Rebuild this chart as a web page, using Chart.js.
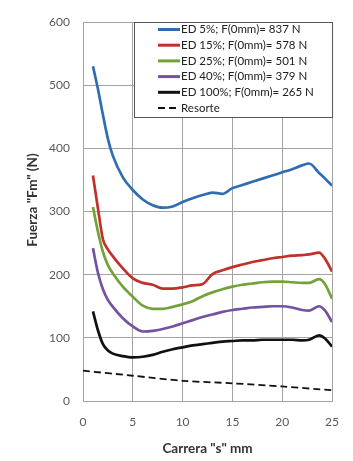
<!DOCTYPE html>
<html lang="es">
<head>
<meta charset="UTF-8">
<title>Fuerza vs Carrera</title>
<script src="https://cdn.jsdelivr.net/npm/chart.js@4"></script>
<style>
  html, body { margin: 0; padding: 0; background: #fff; }
  #wrap { width: 353px; height: 461px; }
</style>
</head>
<body>
<div id="wrap"><canvas id="chart" width="353" height="461"></canvas></div>
<script>
// carrera "s" en mm (eje x)
const carrera = [1, 1.5, 2, 2.5, 3, 4, 5, 6, 7, 8, 9, 10, 11, 12, 13, 14, 15, 16, 17, 18, 19, 20, 21, 22, 22.7, 23.7, 24.3, 25];

// fuerza "Fm" en N para cada ED
const ed5   = [530, 494, 453, 415, 388, 354, 334, 319, 310, 306, 308, 315, 321, 326, 330, 328, 337, 342, 347, 352, 357, 362, 367, 373, 376, 361, 352, 341];
const ed15  = [357, 305, 256, 240, 229, 210, 194, 187, 184, 178, 178, 180, 183, 185, 201, 207, 212, 216, 220, 223, 226, 228, 230, 231, 232, 235, 225, 205];
const ed25  = [307, 268, 236, 215, 202, 181, 165, 151, 146, 146, 149, 153, 158, 166, 172, 177, 181, 184, 186, 188, 189, 189, 188, 187, 187, 193, 185, 162];
const ed40  = [242, 203, 177, 160, 149, 131, 118, 110, 111, 114, 118, 123, 128, 133, 137, 141, 144, 146, 148, 149, 150, 150, 148, 144, 143, 150, 143, 125];
const ed100 = [142, 112, 90, 80, 75, 71, 69, 70, 73, 78, 82, 85, 88, 90, 92, 94, 95, 96, 96, 97, 97, 97, 97, 96, 97, 104, 99, 86];

// resorte
const carreraResorte = [0, 5, 10, 15, 20, 25];
const resorte = [48, 40, 32, 28, 23, 17];

const etiquetas = [
  'ED 5%; F(0mm)= 837 N',
  'ED 15%; F(0mm)= 578 N',
  'ED 25%; F(0mm)= 501 N',
  'ED 40%; F(0mm)= 379 N',
  'ED 100%; F(0mm)= 265 N',
  'Resorte'
];
const colores = ['#2f6db3', '#c0312c', '#74a23a', '#7452a2', '#111111', '#111111'];
const fuente = 'Lato, "Open Sans", sans-serif';

function puntos(xs, ys) {
  return xs.map((x, i) => ({ x: x, y: ys[i] }));
}

const series = [ed5, ed15, ed25, ed40, ed100];
const datasets = series.map((ys, i) => ({
  label: etiquetas[i],
  data: puntos(carrera, ys),
  borderColor: colores[i],
  borderWidth: 2.7,
  pointRadius: 0,
  cubicInterpolationMode: 'monotone',
  fill: false
}));
datasets.push({
  label: etiquetas[5],
  data: puntos(carreraResorte, resorte),
  borderColor: colores[5],
  borderWidth: 1.8,
  borderDash: [7, 4],
  pointRadius: 0,
  tension: 0.3,
  fill: false
});

// leyenda dentro del area del grafico + titulo del eje y
const leyenda = {
  id: 'leyenda',
  afterDatasetsDraw(chart) {
    const ctx = chart.ctx;
    const area = chart.chartArea;
    const x0 = area.left + 51, y0 = area.top + 0.5;
    const w = area.right - x0 + 1, h = 95;
    ctx.save();
    ctx.fillStyle = '#fff';
    ctx.fillRect(x0, y0, w, h);
    ctx.strokeStyle = '#555';
    ctx.lineWidth = 1;
    ctx.strokeRect(x0 + 0.5, y0, w - 1, h);
    ctx.font = '11.5px ' + fuente;
    ctx.textBaseline = 'middle';
    chart.data.datasets.forEach((ds, i) => {
      const y = y0 + 7 + i * 15.7;
      ctx.strokeStyle = ds.borderColor;
      ctx.lineWidth = i < 5 ? 3 : 2;
      ctx.setLineDash(ds.borderDash || []);
      ctx.beginPath();
      ctx.moveTo(x0 + 24, y);
      ctx.lineTo(x0 + 46, y);
      ctx.stroke();
      ctx.setLineDash([]);
      ctx.fillStyle = '#222';
      ctx.fillText(ds.label, x0 + 47, y);
    });

    // titulo eje y
    ctx.translate(33, 200);
    ctx.rotate(-Math.PI / 2);
    ctx.font = 'bold 13.5px ' + fuente;
    ctx.fillStyle = '#333';
    ctx.textAlign = 'center';
    ctx.fillText('Fuerza "Fm" (N)', 0, 0);
    ctx.restore();
  }
};

new Chart(document.getElementById('chart'), {
  type: 'line',
  data: { datasets: datasets },
  plugins: [leyenda],
  options: {
    responsive: false,
    animation: false,
    layout: { padding: { top: 22, right: 11, left: 0, bottom: 0 } },
    plugins: {
      legend: { display: false },
      tooltip: { enabled: false }
    },
    scales: {
      x: {
        type: 'linear',
        min: 0,
        max: 25,
        ticks: {
          stepSize: 5,
          padding: 14,
          color: '#595959',
          font: { family: fuente, size: 12 }
        },
        grid: { color: '#a3a3a3', lineWidth: 1, drawTicks: false },
        border: { color: '#a3a3a3' },
        title: {
          display: true,
          text: 'Carrera "s" mm',
          color: '#333',
          font: { family: fuente, size: 13.5, weight: 'bold' },
          padding: { top: 0, bottom: 4 }
        },
        afterFit(scale) { scale.height = 60; }
      },
      y: {
        min: 0,
        max: 600,
        ticks: {
          stepSize: 100,
          padding: 13,
          color: '#595959',
          font: { family: fuente, size: 12 }
        },
        grid: { color: '#a3a3a3', lineWidth: 1, drawTicks: false },
        border: { color: '#a3a3a3' },
        afterFit(scale) { scale.width = 83; }
      }
    }
  }
});
</script>
</body>
</html>
